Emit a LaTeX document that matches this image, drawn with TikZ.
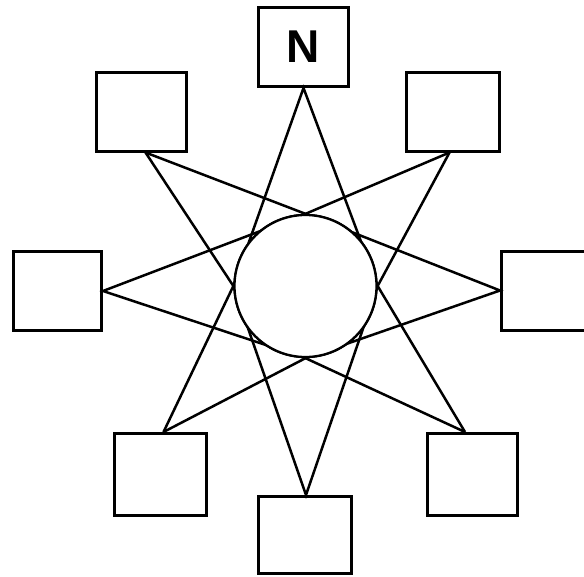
\documentclass[tikz,border=0pt]{standalone}
\usepackage{fontspec}
\setmainfont{Liberation Sans}
\begin{document}
\begin{tikzpicture}[x=1pt,y=-1pt,
  box/.style={draw=black, line width=3pt, fill=white, minimum width=90pt, minimum height=79pt, inner sep=0pt, font=\fontsize{46}{46}\selectfont\bfseries},
  link/.style={draw=black, line width=2.5pt, line join=miter},
  hub/.style={draw=black, line width=2.3pt, fill=white, circle, minimum size=142pt, inner sep=0pt}]
\useasboundingbox (0,0) rectangle (584,576);
\clip (0,0) rectangle (584,576);
\fill[white] (0,0) rectangle (584,576);
\node[box] (N)  at (303.5,47) {N};
\node[box] (TL) at (141.5,111.5) {};
\node[box, minimum width=93pt] (TR) at (452.5,111.5) {};
\node[box, minimum width=88pt] (L)  at (57.5,291) {};
\node[box] (R)  at (546.5,290.5) {};
\node[box, minimum width=92pt, minimum height=82pt] (BL) at (160.5,474.5) {};
\node[box, minimum height=82pt] (BR) at (472,474.5) {};
\node[box, minimum width=93pt, minimum height=77pt] (B)  at (305,535) {};
\node[hub] (C) at (305.5,286) {};
\coordinate (pN)  at (N.south);
\coordinate (pTL) at ([xshift=4pt]TL.south);
\coordinate (pTR) at ([xshift=-3pt]TR.south);
\coordinate (pL)  at (L.east);
\coordinate (pR)  at (R.west);
\coordinate (pBL) at ([xshift=3pt]BL.north);
\coordinate (pBR) at ([xshift=-7pt]BR.north);
\coordinate (pB)  at ([xshift=1pt]B.north);
\draw[link] (pBL) -- (C.west) -- (pN) -- (C.east) -- (pBR);
\draw[link] (pTL) -- (C.west) -- (pB) -- (C.east) -- (pTR);
\draw[link] (pTR) -- (C.north) -- (pL) -- (C.south) -- (pBR);
\draw[link] (pTL) -- (C.north) -- (pR) -- (C.south) -- (pBL);
\node[hub] (C2) at (C) {};
\end{tikzpicture}
\end{document}
